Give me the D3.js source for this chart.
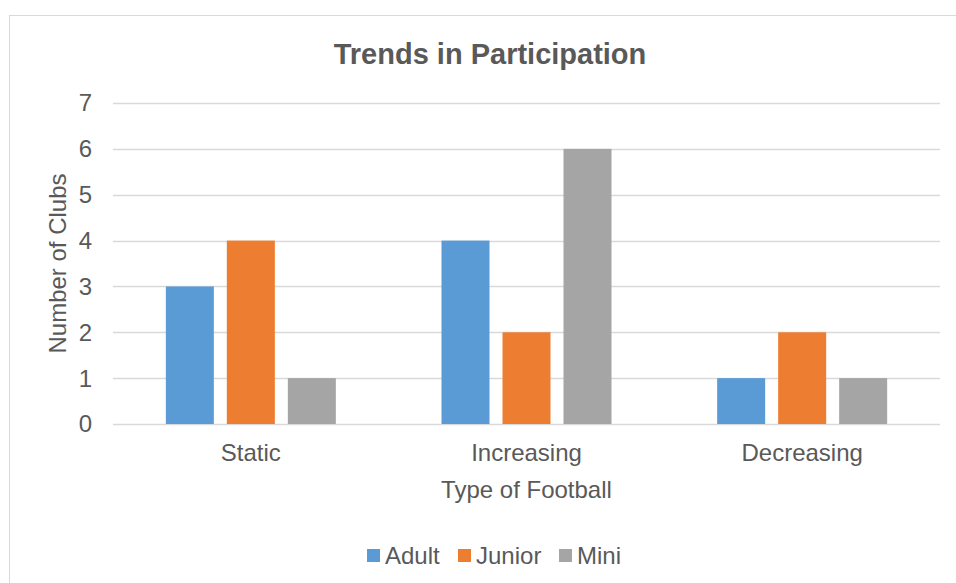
<!DOCTYPE html>
<html>
<head>
<meta charset="utf-8">
<script src="https://cdn.jsdelivr.net/npm/d3@7"></script>
<style>
  html, body { margin: 0; padding: 0; background: #fff; }
  svg { display: block; font-family: "Liberation Sans", Arial, sans-serif; }
</style>
</head>
<body>
<svg id="chart" width="956" height="583"></svg>
<script>
const categories = ["Static", "Increasing", "Decreasing"];
const seriesNames = ["Adult", "Junior", "Mini"];
const adult = [3, 4, 1];
const junior = [4, 2, 2];
const mini = [1, 6, 1];
const yTicks = [0, 1, 2, 3, 4, 5, 6, 7];
const colors = ["#5B9BD5", "#ED7D31", "#A5A5A5"];
const title = "Trends in Participation";
const xTitle = "Type of Football";
const yTitle = "Number of Clubs";

const seriesValues = [adult, junior, mini];
const svg = d3.select("#chart");
const textColor = "#595959";

// chart border
svg.append("rect").attr("x", 9.5).attr("y", 15.5).attr("width", 962).attr("height", 590)
  .attr("fill", "none").attr("stroke", "#D9D9D9").attr("stroke-width", 1);

const pLeft = 113, pRight = 940, pTop = 103, pBottom = 424;

const x0 = d3.scaleBand().domain(categories).range([pLeft, pRight]).paddingInner(0).paddingOuter(0);
const x1 = d3.scaleBand().domain(seriesNames).range([0, x0.bandwidth()]).paddingInner(0.213).paddingOuter(0.866);
const y = d3.scaleLinear().domain([0, 7]).range([pBottom, pTop]);

// gridlines
svg.append("g").selectAll("line").data(yTicks).join("line")
  .attr("x1", pLeft).attr("x2", pRight)
  .attr("y1", d => Math.round(y(d)) + 0.5).attr("y2", d => Math.round(y(d)) + 0.5)
  .attr("stroke", "#D9D9D9").attr("stroke-width", 1.5);

// y tick labels
svg.append("g").selectAll("text").data(yTicks).join("text")
  .attr("x", 92).attr("y", d => y(d)).attr("dy", "0.35em")
  .attr("text-anchor", "end").attr("font-size", 24).attr("fill", textColor)
  .text(d => d);

// bars
const groups = svg.append("g").selectAll("g").data(categories).join("g")
  .attr("transform", c => `translate(${x0(c)},0)`);
groups.selectAll("rect").data((c, i) => seriesNames.map((s, j) => ({ s, v: seriesValues[j][i], j })))
  .join("rect")
  .attr("x", d => x1(d.s)).attr("width", x1.bandwidth())
  .attr("y", d => y(d.v)).attr("height", d => y(0) - y(d.v))
  .attr("fill", d => colors[d.j]);

// category labels
svg.append("g").selectAll("text").data(categories).join("text")
  .attr("x", c => x0(c) + x0.bandwidth() / 2).attr("y", 461)
  .attr("text-anchor", "middle").attr("font-size", 24).attr("fill", textColor)
  .text(c => c);

// title
svg.append("text").attr("x", 490).attr("y", 64).attr("text-anchor", "middle")
  .attr("font-size", 29).attr("font-weight", "bold").attr("fill", textColor).text(title);

// axis titles
svg.append("text").attr("x", (pLeft + pRight) / 2).attr("y", 498).attr("text-anchor", "middle")
  .attr("font-size", 24).attr("fill", textColor).text(xTitle);
svg.append("text").attr("transform", `translate(66,${(pTop + pBottom) / 2}) rotate(-90)`)
  .attr("text-anchor", "middle").attr("font-size", 24).attr("fill", textColor).text(yTitle);

// legend
const legendX = [367, 458, 559];
const lg = svg.append("g").selectAll("g").data(seriesNames).join("g")
  .attr("transform", (d, i) => `translate(${legendX[i]},549)`);
lg.append("rect").attr("width", 13).attr("height", 13).attr("fill", (d, i) => colors[i]);
lg.append("text").attr("x", 18).attr("y", 6.5).attr("dy", "0.35em")
  .attr("font-size", 24).attr("fill", textColor).text(d => d);
</script>
</body>
</html>
